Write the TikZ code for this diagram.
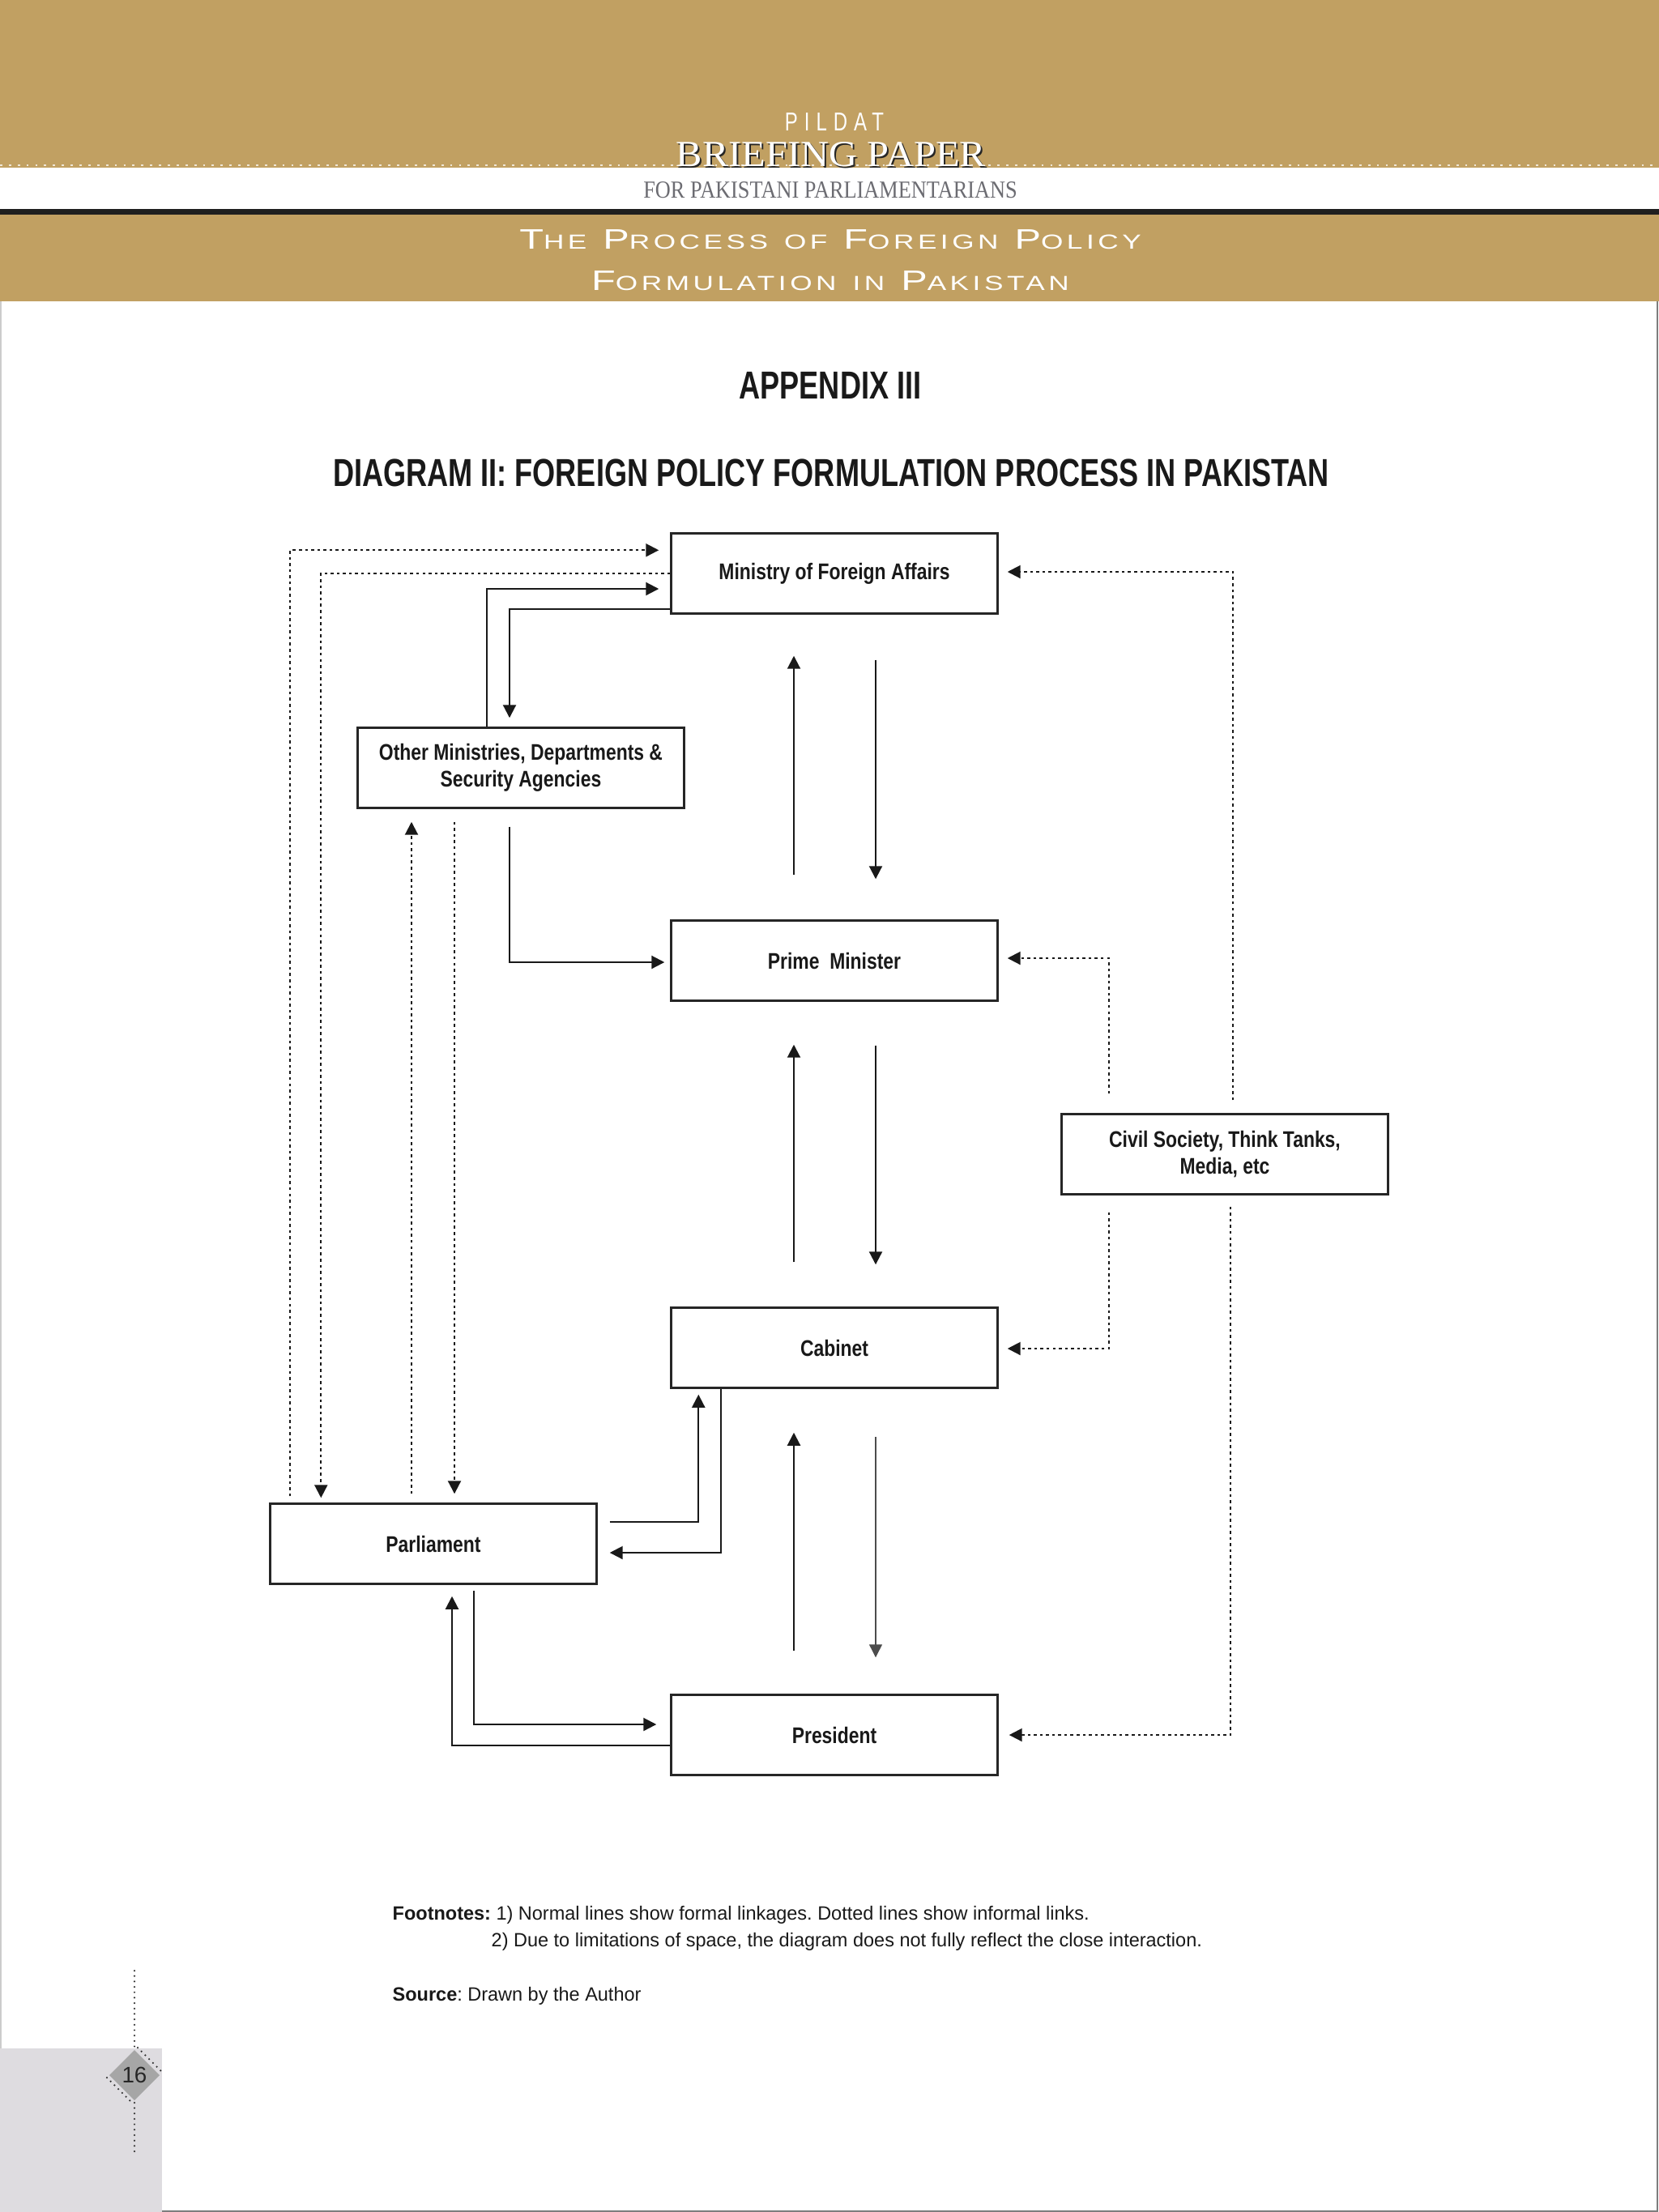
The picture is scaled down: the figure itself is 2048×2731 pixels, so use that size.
\documentclass[tikz,border=0pt]{standalone}
\usepackage{fontspec}
\setmainfont{Liberation Sans}
\newfontfamily\boxfont{Liberation Sans}[FakeStretch=0.82]
\newfontfamily\headfont{Liberation Sans}[FakeStretch=0.75]
\newfontfamily\notefont{Liberation Sans}[FakeStretch=0.99]
\newfontfamily\bannerfont{Liberation Sans}[FakeStretch=1.4,LetterSpace=18]
\newfontfamily\pildatfont{Liberation Sans}[FakeStretch=0.75,LetterSpace=25]
\newfontfamily\briefserif{Liberation Serif}
\usetikzlibrary{calc,arrows.meta}
\definecolor{pildatgold}{RGB}{193,160,98}
\definecolor{pagegrey}{RGB}{222,220,224}
\definecolor{diamondgrey}{RGB}{166,166,166}
\definecolor{subgrey}{RGB}{108,108,114}
\definecolor{edgegrey}{RGB}{125,125,125}
\newcommand{\capsc}[2]{{\fontsize{9.9}{12}\selectfont #1}{\fontsize{7.15}{12}\selectfont #2}}
\newcommand{\smsc}[1]{{\fontsize{7.15}{12}\selectfont #1}}
\frenchspacing

\begin{document}
\begin{tikzpicture}[x=0.1mm,y=-0.1mm,
    box/.style={draw=black!85, line width=0.7pt, minimum width=40.3mm, minimum height=9.9mm,
      inner sep=0pt, align=center, text=black!90,
      font=\boxfont\bfseries\fontsize{7.95}{9.4}\selectfont},
    arr/.style={line width=0.6pt, draw=black!90, -{Triangle[length=1.6mm,width=1.6mm]}},
    thinarr/.style={arr, line width=0.35pt, draw=black!70},
    dotarr/.style={arr, dash pattern=on 1pt off 1.15pt},
    pagedots/.style={line width=0.7pt, black!80, line cap=round, dash pattern=on 0pt off 1.9pt}]
    %%%%% PAGE %%%%%
    \useasboundingbox[fill=white] (0,0) rectangle (2048,2731);
    \fill[pildatgold] (0,0) rectangle (2048,207);
    \draw[white!75!pildatgold, line width=0.8pt, dash pattern=on 0.8pt off 2.3pt] (0,204) -- (2048,204);
    \fill[black!88] (0,258) rectangle (2048,265);
    \fill[pildatgold] (0,265) rectangle (2048,372);
    \draw[black!20, line width=0.4pt] (1,372) -- (1,2529);
    \draw[edgegrey, line width=0.6pt] (2046,372) -- (2046,2730) -- (200,2730);

    %%%%% HEADER %%%%%
    \node[anchor=base, text=white, font=\pildatfont\fontsize{9.1}{11}\selectfont] (pildat) at (1030,161) {PILDAT};
    \node[anchor=base, text=black!85, xscale=1.07, font=\briefserif\fontsize{12.9}{14}\selectfont] (briefshadow) at (1028,207) {BRIEFING PAPER};
    \node[anchor=base, text=white, xscale=1.07, font=\briefserif\fontsize{12.9}{14}\selectfont] (brief) at (1026,205) {BRIEFING PAPER};
    \node[anchor=base, text=subgrey, font=\briefserif\fontsize{8.6}{10}\selectfont, xscale=0.87] (forparl) at (1025,244) {FOR PAKISTANI PARLIAMENTARIANS};
    \node[anchor=base, text=white, font=\bannerfont] (banner1) at (1025,307) {\capsc{T}{HE} \capsc{P}{ROCESS} \smsc{OF} \capsc{F}{OREIGN} \capsc{P}{OLICY}};
    \node[anchor=base, text=white, font=\bannerfont] (banner2) at (1025,358) {\capsc{F}{ORMULATION} \smsc{IN} \capsc{P}{AKISTAN}};

    \node[anchor=base, text=black!90, font=\headfont\bfseries\fontsize{13.7}{16}\selectfont] (appx) at (1025,492) {APPENDIX III};
    \node[anchor=base, text=black!90, font=\headfont\bfseries\fontsize{13.7}{16}\selectfont] (dtitle) at (1026,600) {DIAGRAM II: FOREIGN POLICY FORMULATION PROCESS IN PAKISTAN};

    %%%%% BOXES %%%%%
    \node[box] (mofa) at (1030,708) {Ministry of Foreign Affairs};
    \node[box] (omd) at (643,948) {Other Ministries, Departments \&\\Security Agencies};
    \node[box] (pm) at (1030,1186) {Prime\ \ Minister};
    \node[box] (civ) at (1512,1425) {Civil Society, Think Tanks,\\Media, etc};
    \node[box] (cab) at (1030,1664) {Cabinet};
    \node[box] (parl) at (535,1906) {Parliament};
    \node[box] (pres) at (1030,2142) {President};

    %%%%% FORMAL LINKS %%%%%
    \draw[arr] ($(pm.north)+(-50,-55)$) -- ($(mofa.south)+(-50,51)$);
    \draw[arr] ($(mofa.south)+(51,56)$) -- ($(pm.north)+(51,-50)$);
    \draw[arr] ($(cab.north)+(-50,-55)$) -- ($(pm.south)+(-50,53)$);
    \draw[arr] ($(pm.south)+(51,54)$) -- ($(cab.north)+(51,-52)$);
    \draw[arr] ($(pres.north)+(-50,-53)$) -- ($(cab.south)+(-50,54)$);
    \draw[thinarr] ($(cab.south)+(51,59)$) -- ($(pres.north)+(51,-45)$);

    \draw[arr] ($(omd.north)+(-42,0)$) |- ($(mofa.west)+(-14,19)$);
    \draw[arr] ($(mofa.south west)+(0,-7)$) -| ($(omd.north)+(-14,-11)$);
    \draw[arr] ($(omd.south)+(-14,22)$) |- ($(pm.west)+(-7,2)$);

    \draw[arr] ($(parl.east)+(15,-27)$) -| ($(cab.south west)+(35,7)$);
    \draw[arr] ($(cab.south west)+(63,0)$) |- ($(parl.east)+(15,11)$);
    \draw[arr] ($(parl.south)+(50,7)$) |- ($(pres.west)+(-17,-13)$);
    \draw[arr] ($(pres.west)+(0,13)$) -| ($(parl.south)+(23,14)$);

    %%%%% INFORMAL LINKS %%%%%
    \draw[dotarr] ($(parl.north west)+(26,-8)$) |- ($(mofa.north west)+(-14,22)$);
    \draw[dotarr] (mofa.west) -| ($(parl.north west)+(64,-6)$);
    \draw[dotarr] ($(parl.north)+(-27,-11)$) -- ($(omd.south)+(-135,16)$);
    \draw[dotarr] ($(omd.south)+(-82,16)$) -- ($(parl.north)+(26,-11)$);

    \draw[dotarr] ($(civ.north)+(10,-16)$) |- ($(mofa.east)+(11,-2)$);
    \draw[dotarr] ($(civ.north)+(-143,-24)$) |- ($(pm.east)+(11,-3)$);
    \draw[dotarr] ($(civ.south)+(-143,21)$) |- ($(cab.east)+(11,1)$);
    \draw[dotarr] ($(civ.south)+(7,14)$) |- ($(pres.east)+(13,0)$);

    %%%%% NOTES %%%%%
    \node[anchor=base west, inner sep=0pt, text=black!90, font=\notefont\fontsize{6.75}{8}\selectfont] (note1) at (484,2370)
      {\textbf{Footnotes:} 1) Normal lines show formal linkages. Dotted lines show informal links.};
    \node[anchor=base west, inner sep=0pt, text=black!90, font=\notefont\fontsize{6.75}{8}\selectfont] (note2) at (606,2403)
      {2) Due to limitations of space, the diagram does not fully reflect the close interaction.};
    \node[anchor=base west, inner sep=0pt, text=black!90, font=\notefont\fontsize{6.75}{8}\selectfont] (source) at (484,2470)
      {\textbf{Source}: Drawn by the Author};

    %%%%% PAGE NUMBER %%%%%
    \fill[pagegrey] (0,2529) rectangle (200,2731);
    \fill[diamondgrey] (166,2531) -- (197,2562) -- (166,2593) -- (135,2562) -- cycle;
    \node[text=black!85, font=\fontsize{7.9}{9}\selectfont] (pagenum) at (166,2562) {16};
    \draw[pagedots] (166,2433) -- (166,2529);
    \draw[pagedots] (166,2596) -- (166,2662);
    \draw[pagedots] (170,2528) -- (200,2558);
    \draw[pagedots] (132,2565) -- (162,2595);
\end{tikzpicture}
\end{document}
